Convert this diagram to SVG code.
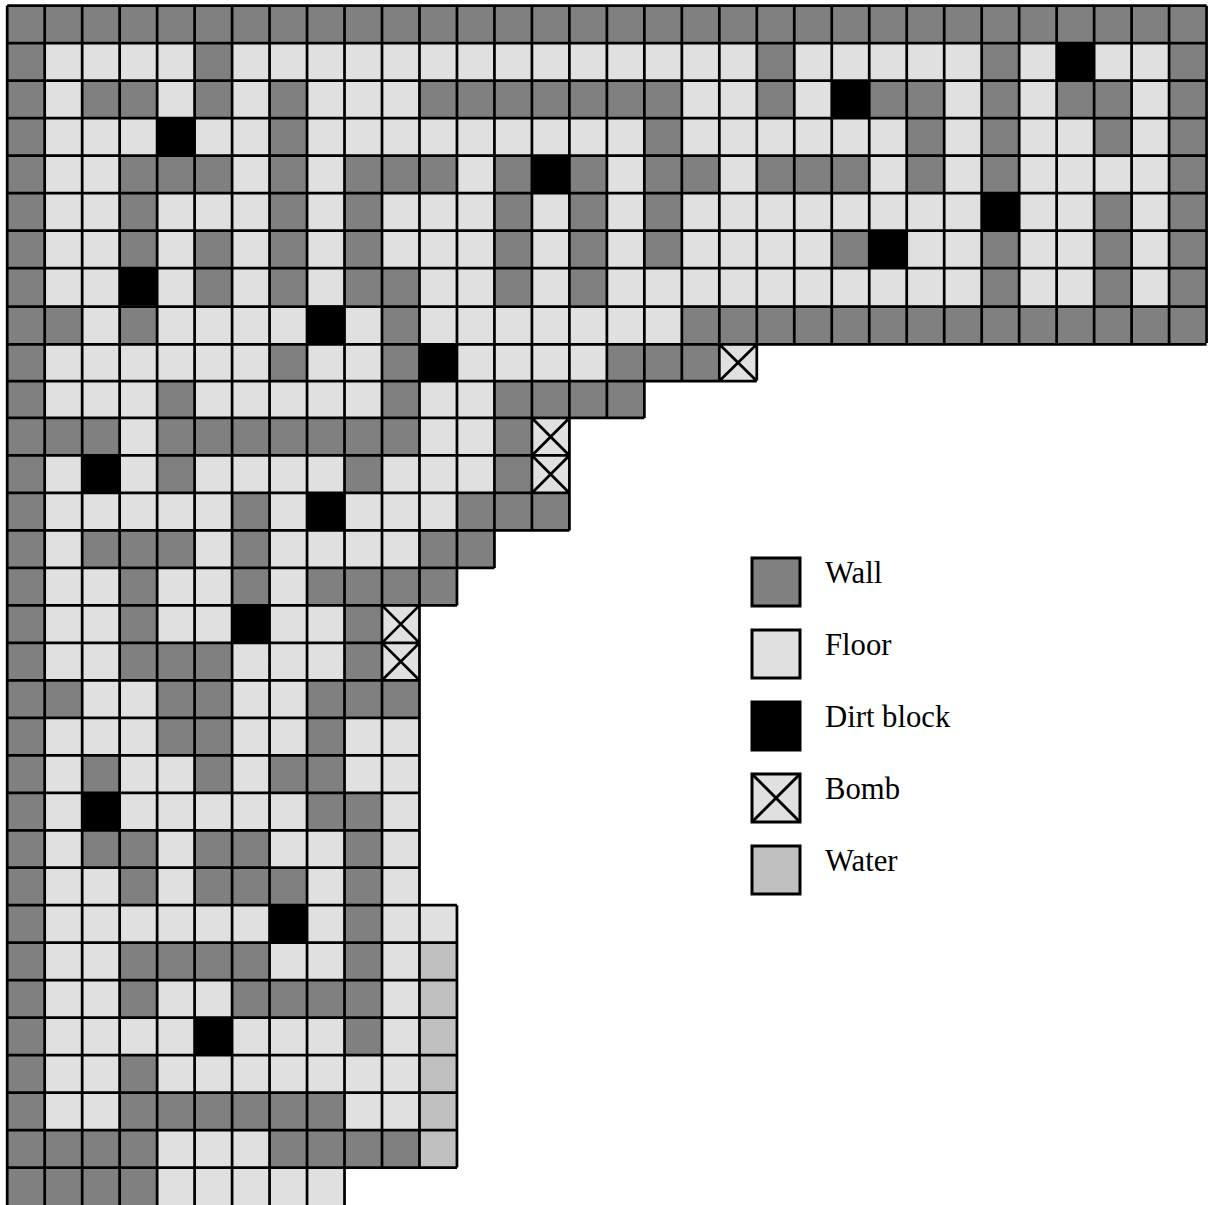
<svg xmlns="http://www.w3.org/2000/svg" width="1209" height="1205" viewBox="0 0 1209 1205">
<style>
.w{fill:#808080}.f{fill:#e0e0e0}.d{fill:#000}.a{fill:#c0c0c0}
.g{fill:none;stroke:#000;stroke-width:.073}
.k{stroke:#000;stroke-width:3}
.x{fill:none;stroke:#000;stroke-width:3}
text{font-family:"Liberation Serif","Times New Roman",serif;font-size:30.7px;fill:#000}
</style>
<rect width="1209" height="1205" fill="#fff"/>
<g id="map" transform="translate(7.2,5.7) scale(37.48)">
<path class="f" d="M0 0h32v9h-32zM0 9h20v1h-20zM0 10h17v1h-17zM0 11h15v3h-15zM0 14h13v1h-13zM0 15h12v1h-12zM0 16h11v8h-11zM0 24h12v7h-12zM0 31h9v1h-9z"/>
<path class="a" d="M11 25h1v6h-1z"/>
<path class="w" d="M0 0h1v32h-1zM31 0h1v9h-1zM1 0h30v1h-30z
M5 1h1v1h-1zM20 1h1v1h-1zM26 1h1v1h-1z
M2 2h2v1h-2zM5 2h1v1h-1zM7 2h1v1h-1zM11 2h7v1h-7zM20 2h1v1h-1zM23 2h2v1h-2zM26 2h1v1h-1zM28 2h2v1h-2z
M7 3h1v1h-1zM17 3h1v1h-1zM24 3h1v1h-1zM26 3h1v1h-1zM29 3h1v1h-1z
M3 4h3v1h-3zM7 4h1v1h-1zM9 4h3v1h-3zM13 4h1v1h-1zM15 4h1v1h-1zM17 4h2v1h-2zM20 4h3v1h-3zM24 4h1v1h-1zM26 4h1v1h-1z
M3 5h1v1h-1zM7 5h1v1h-1zM9 5h1v1h-1zM13 5h1v1h-1zM15 5h1v1h-1zM17 5h1v1h-1zM29 5h1v1h-1z
M3 6h1v1h-1zM5 6h1v1h-1zM7 6h1v1h-1zM9 6h1v1h-1zM13 6h1v1h-1zM15 6h1v1h-1zM17 6h1v1h-1zM22 6h1v1h-1zM26 6h1v1h-1zM29 6h1v1h-1z
M5 7h1v1h-1zM7 7h1v1h-1zM9 7h2v1h-2zM13 7h1v1h-1zM15 7h1v1h-1zM26 7h1v1h-1zM29 7h1v1h-1z
M1 8h1v1h-1zM3 8h1v1h-1zM10 8h1v1h-1zM18 8h13v1h-13z
M7 9h1v1h-1zM10 9h1v1h-1zM16 9h3v1h-3z
M4 10h1v1h-1zM10 10h1v1h-1zM13 10h4v1h-4z
M1 11h2v1h-2zM4 11h7v1h-7zM13 11h1v1h-1z
M4 12h1v1h-1zM9 12h1v1h-1zM13 12h1v1h-1z
M6 13h1v1h-1zM12 13h3v1h-3z
M2 14h3v1h-3zM6 14h1v1h-1zM11 14h2v1h-2z
M3 15h1v1h-1zM6 15h1v1h-1zM8 15h4v1h-4z
M3 16h1v1h-1zM9 16h1v1h-1z
M3 17h3v1h-3zM9 17h1v1h-1z
M1 18h1v1h-1zM4 18h2v1h-2zM8 18h3v1h-3z
M4 19h2v1h-2zM8 19h1v1h-1z
M2 20h1v1h-1zM5 20h1v1h-1zM7 20h2v1h-2z
M8 21h2v1h-2z
M2 22h2v1h-2zM5 22h2v1h-2zM9 22h1v1h-1z
M3 23h1v1h-1zM5 23h3v1h-3zM9 23h1v1h-1z
M9 24h1v1h-1z
M3 25h4v1h-4zM9 25h1v1h-1z
M3 26h1v1h-1zM6 26h4v1h-4z
M9 27h1v1h-1z
M3 28h1v1h-1z
M3 29h6v1h-6z
M1 30h3v1h-3zM7 30h4v1h-4z
M1 31h3v1h-3z"/>
<path class="d" d="M28 1h1v1h-1zM22 2h1v1h-1zM4 3h1v1h-1zM14 4h1v1h-1zM26 5h1v1h-1zM23 6h1v1h-1zM3 7h1v1h-1zM8 8h1v1.03h-1zM11 9h1v1h-1zM2 12h1v1h-1zM8 13h1v1h-1zM6 16h1v1h-1zM2 21h1v1h-1zM7 24h1v1h-1zM5 27h1v1h-1z"/>
<path class="g" d="M0 0h32M0 1h32M0 2h32M0 3h32M0 4h32M0 5h32M0 6h32M0 7h32M0 8.03h32M0 9.035h32M0 10.015h20M0 11h17M0 12h15M0 13h15M0 14h15M0 15h13M0 16h12M0 17h11M0 18h11M0 19h11M0 20h11M0 21h11M0 22h11M0 23h11M0 24h12M0 25h12M0 26h12M0 27h12M0 28h12M0 29h12M0 30h12M0 31h12
M0 0v32M1 0v32M2 0v32M3 0v32M4 0v32M5 0v32M6 0v32M7 0v32M8 0v32M9 0v32M10 0v31M11 0v31M12 0v16M12 24v7M13 0v15M14 0v14M15 0v14M16 0v11M17 0v11M18 0v10M19 0v10M20 0v10M21 0v9M22 0v9M23 0v9M24 0v9M25 0v9M26 0v9M27 0v9M28 0v9M29 0v9M30 0v9M31 0v9M32 0v9
M19 9.035L20 10.015M20 9.035L19 10.015M14 11l1 1M15 11l-1 1M14 12l1 1M15 12l-1 1M10 16l1 1M11 16l-1 1M10 17l1 1M11 17l-1 1"/>
</g>
<g id="legend-wall"><rect class="w k" x="752" y="558" width="48" height="48"/><text x="825" y="583">Wall</text></g>
<g id="legend-floor"><rect class="f k" x="752" y="630" width="48" height="48"/><text x="825" y="655">Floor</text></g>
<g id="legend-dirt"><rect class="d k" x="752" y="702" width="48" height="48"/><text x="825" y="727">Dirt block</text></g>
<g id="legend-bomb"><rect class="f k" x="752" y="774" width="48" height="48"/><path class="x" d="M752 774l48 48M800 774l-48 48"/><text x="825" y="799">Bomb</text></g>
<g id="legend-water"><rect class="a k" x="752" y="846" width="48" height="48"/><text x="825" y="871">Water</text></g>
</svg>
